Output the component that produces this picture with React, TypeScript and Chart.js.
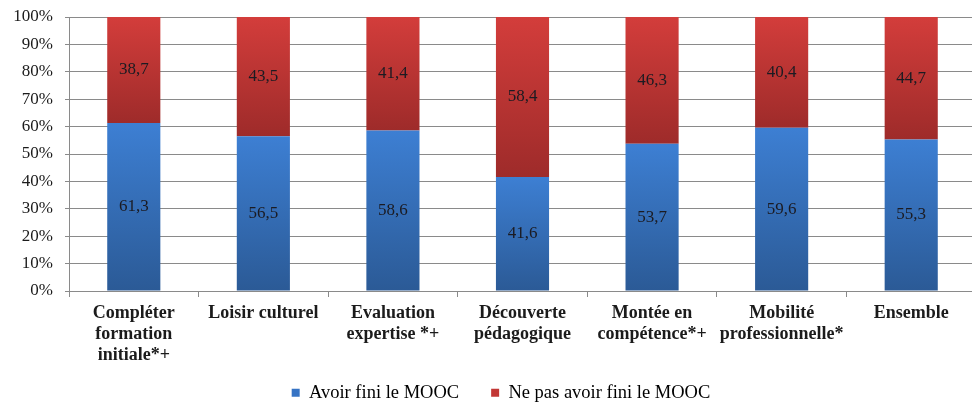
import React, { useEffect, useRef } from 'react';
import { Chart, registerables } from 'chart.js';
Chart.register(...registerables);

const categories = [
  ['Compléter', 'formation', 'initiale*+'],
  ['Loisir culturel'],
  ['Evaluation', 'expertise *+'],
  ['Découverte', 'pédagogique'],
  ['Montée en', 'compétence*+'],
  ['Mobilité', 'professionnelle*'],
  ['Ensemble'],
];
const finished = [61.3, 56.5, 58.6, 41.6, 53.7, 59.6, 55.3];
const notFinished = [38.7, 43.5, 41.4, 58.4, 46.3, 40.4, 44.7];
const seriesNames = ['Avoir fini le MOOC', 'Ne pas avoir fini le MOOC'];
const yMax = 100;
const yStep = 10;

const FONT = "'Liberation Serif', 'Times New Roman', serif";
const BLUE_TOP = '#3d7fd3';
const BLUE_BOT = '#2b5a96';
const RED_TOP = '#d33d3b';
const RED_BOT = '#9e2b2a';

const CANVAS_W = 980;
const CANVAS_H = 412;
const PLOT_LEFT = 69;
const PLOT_BOTTOM = 291;
const PAD_LEFT = 26;
const PAD_RIGHT = 4;
const PAD_TOP = 17;
const PAD_BOTTOM = 0;

function gradientFill(ctx: any, topColor: string, botColor: string, lowVals: number[] | null, highVals: number[]) {
  const chart = ctx.chart;
  const y = chart.scales && chart.scales.y;
  if (ctx.type !== 'data' || !y || y.bottom === undefined) return topColor;
  const i = ctx.dataIndex;
  const lo = lowVals ? lowVals[i] : 0;
  const hi = lo + highVals[i];
  const pTop = y.getPixelForValue(hi);
  const pBot = y.getPixelForValue(lo);
  if (!isFinite(pTop) || !isFinite(pBot)) return topColor;
  const g = chart.ctx.createLinearGradient(0, pTop, 0, pBot);
  g.addColorStop(0, topColor);
  g.addColorStop(1, botColor);
  return g;
}

const valueLabels = {
  id: 'valueLabels',
  afterDatasetsDraw(chart: any) {
    const c = chart.ctx;
    c.save();
    c.font = `17px ${FONT}`;
    c.fillStyle = '#1b1b22';
    c.textAlign = 'center';
    c.textBaseline = 'middle';
    chart.data.datasets.forEach((ds: any, di: number) => {
      const meta = chart.getDatasetMeta(di);
      meta.data.forEach((el: any, i: number) => {
        const { x, y, base } = el.getProps(['x', 'y', 'base'], true);
        const txt = ds.data[i].toFixed(1).replace('.', ',');
        c.fillText(txt, x, (y + base) / 2);
      });
    });
    c.restore();
  },
};

// widen the label clip areas of the axes so their text is not cut off
const unclipAxes = {
  id: 'unclipAxes',
  afterLayout(chart: any) {
    const y = chart.scales.y;
    const x = chart.scales.x;
    if (y) y.left = 0;
    if (x) x.bottom = chart.height;
  },
};

export default function App() {
  const ref = useRef<HTMLCanvasElement>(null);
  useEffect(() => {
    if (!ref.current) return;
    const chart = new Chart(ref.current, {
      type: 'bar',
      data: {
        labels: categories,
        datasets: [
          {
            label: seriesNames[0],
            data: finished,
            backgroundColor: (ctx: any) => gradientFill(ctx, BLUE_TOP, BLUE_BOT, null, finished),
            borderWidth: 0,
            barPercentage: 1,
            categoryPercentage: 0.41,
          },
          {
            label: seriesNames[1],
            data: notFinished,
            backgroundColor: (ctx: any) => gradientFill(ctx, RED_TOP, RED_BOT, finished, notFinished),
            borderWidth: 0,
            barPercentage: 1,
            categoryPercentage: 0.41,
          },
        ],
      },
      options: {
        responsive: false,
        animation: false,
        devicePixelRatio: 1,
        layout: { padding: { left: PAD_LEFT, right: PAD_RIGHT, top: PAD_TOP, bottom: PAD_BOTTOM } },
        plugins: {
          tooltip: { enabled: false },
          legend: {
            position: 'bottom',
            labels: {
              boxWidth: 8,
              boxHeight: 8,
              padding: 32,
              color: '#1b1b1b',
              font: { family: FONT, size: 18.5 },
              generateLabels: () => [
                { text: seriesNames[0], fillStyle: '#3673c4', strokeStyle: '#3673c4', lineWidth: 0, datasetIndex: 0, hidden: false },
                { text: seriesNames[1], fillStyle: '#c23735', strokeStyle: '#c23735', lineWidth: 0, datasetIndex: 1, hidden: false },
              ],
            },
          },
        },
        scales: {
          x: {
            stacked: true,
            offset: true,
            grid: {
              offset: true,
              drawOnChartArea: false,
              drawTicks: true,
              tickLength: 6,
              color: '#8a8a8a',
            },
            border: { color: '#8a8a8a', width: 1 },
            ticks: {
              autoSkip: false,
              maxRotation: 0,
              minRotation: 0,
              padding: 6,
              color: '#1b1b1b',
              font: { family: FONT, size: 18, weight: 'bold', lineHeight: 1.167 },
            },
            afterFit: (scale: any) => {
              const lg = scale.chart.legend;
              const lh = lg ? lg.height : 0;
              scale.height = CANVAS_H - PAD_BOTTOM - lh - PLOT_BOTTOM;
            },
          },
          y: {
            stacked: true,
            min: 0,
            max: yMax,
            grid: { color: '#8a8a8a', tickLength: 4, lineWidth: 1 },
            border: { color: '#8a8a8a', width: 1 },
            ticks: {
              stepSize: yStep,
              padding: 12,
              color: '#1b1b1b',
              font: { family: FONT, size: 17 },
              callback: (v: any) => `${v}%`,
            },
            afterFit: (scale: any) => {
              scale.width = PLOT_LEFT - PAD_LEFT;
              scale.paddingTop = 0;
              scale.paddingBottom = 0;
            },
          },
        },
      },
      plugins: [valueLabels, unclipAxes],
    });
    return () => chart.destroy();
  }, []);
  return (
    <div style={{ position: 'absolute', left: 0, top: 0, width: 972, height: 403, overflow: 'hidden', background: '#fff' }}>
      <canvas ref={ref} width={CANVAS_W} height={CANVAS_H} style={{ width: CANVAS_W, height: CANVAS_H, display: 'block' }} />
    </div>
  );
}
